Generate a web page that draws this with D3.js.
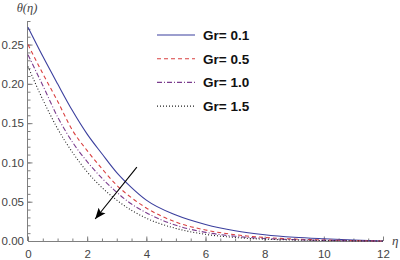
<!DOCTYPE html>
<html>
<head>
<meta charset="utf-8">
<script src="https://cdn.jsdelivr.net/npm/d3@7"></script>
<style>
  body { margin: 0; background: #fff; }
  svg { display: block; }
  .tick text { font-family: "Liberation Sans", Arial, sans-serif; }
</style>
</head>
<body>
<svg id="chart" width="400" height="260"></svg>
<script>
// data
var eta = [0, 0.5, 1, 1.5, 2, 2.5, 3, 3.5, 4, 5, 6, 7, 8, 9, 10, 11, 12];
var gr01 = [0.272, 0.235, 0.200, 0.166, 0.136, 0.111, 0.087, 0.068, 0.052, 0.033, 0.021, 0.013, 0.008, 0.0048, 0.0028, 0.0012, 0];
var gr05 = [0.250, 0.213, 0.178, 0.141, 0.115, 0.092, 0.071, 0.055, 0.042, 0.024, 0.014, 0.008, 0.0045, 0.0025, 0.0013, 0.0005, 0];
var gr10 = [0.237, 0.198, 0.158, 0.126, 0.101, 0.080, 0.062, 0.047, 0.036, 0.020, 0.011, 0.006, 0.0032, 0.0017, 0.0008, 0.0003, 0];
var gr15 = [0.222, 0.180, 0.143, 0.113, 0.088, 0.068, 0.052, 0.039, 0.029, 0.016, 0.0085, 0.0045, 0.0023, 0.0012, 0.0006, 0.0002, 0];
var labels = ["Gr= 0.1", "Gr= 0.5", "Gr= 1.0", "Gr= 1.5"];
var xTicks = [0, 2, 4, 6, 8, 10, 12];
var yTicks = [0, 0.05, 0.10, 0.15, 0.20, 0.25];
// arrow annotation (eta, theta): tail, head
var arrowFrom = [3.68, 0.094];
var arrowTo = [2.27, 0.028];

var series = [
  {name: labels[0], values: gr01, color: "#3b3f9e", dash: null},
  {name: labels[1], values: gr05, color: "#d94040", dash: "4,3"},
  {name: labels[2], values: gr10, color: "#7b3d8e", dash: "5,2,1,2"},
  {name: labels[3], values: gr15, color: "#222", dash: "1,2"}
];

var svg = d3.select("#chart");
var x = d3.scaleLinear().domain([0, 12]).range([28, 383]);
var y = d3.scaleLinear().domain([0, 0.28]).range([241, 21]);
var axisColor = "#7f7f7f";

// x axis (ticks pointing into the plot)
var gx = svg.append("g").attr("transform", "translate(0,241)");
gx.call(d3.axisBottom(x).tickValues(d3.range(0, 12.01, 0.5)).tickSize(-2.5).tickFormat(""));
gx.append("g").call(d3.axisBottom(x).tickValues(xTicks).tickSize(-4.5).tickPadding(7).tickFormat(d3.format("d")));
gx.selectAll("path.domain").attr("stroke", axisColor).attr("d", "M28,0.5H383");
gx.selectAll("line").attr("stroke", axisColor);
gx.selectAll("text").attr("fill", "#444").attr("font-size", 11.5).attr("dy", "0.9em");

// y axis
var gy = svg.append("g").attr("transform", "translate(28,0)");
gy.call(d3.axisLeft(y).tickValues(d3.range(0, 0.2801, 0.01)).tickSize(-2.5).tickFormat(""));
gy.append("g").call(d3.axisLeft(y).tickValues(yTicks).tickSize(-4.5).tickPadding(4).tickFormat(d3.format(".2f")));
gy.selectAll("path.domain").attr("stroke", axisColor).attr("d", "M-0.5,241V21");
gy.selectAll("line").attr("stroke", axisColor);
gy.selectAll("text").attr("fill", "#444").attr("font-size", 11.5);

// curves
var line = d3.line()
  .x(function(d, i) { return x(eta[i]); })
  .y(function(d) { return y(d); })
  .curve(d3.curveMonotoneX);

svg.selectAll("path.curve")
  .data(series)
  .enter()
  .append("path")
  .attr("class", "curve")
  .attr("d", function(d) { return line(d.values); })
  .attr("fill", "none")
  .attr("stroke", function(d) { return d.color; })
  .attr("stroke-width", 1.1)
  .attr("stroke-dasharray", function(d) { return d.dash; });

// axis labels
svg.append("text").attr("x", 27).attr("y", 12).attr("text-anchor", "middle")
  .attr("font-family", "Liberation Serif, serif").attr("font-style", "italic")
  .attr("font-size", 12.5).attr("fill", "#444").text("θ(η)");
svg.append("text").attr("x", 392).attr("y", 245)
  .attr("font-family", "Liberation Serif, serif").attr("font-style", "italic")
  .attr("font-size", 13).attr("fill", "#444").text("η");

// legend
var leg = svg.append("g");
series.forEach(function(s, i) {
  var yy = 35 + i * 23.7;
  leg.append("line").attr("x1", 157).attr("x2", 195).attr("y1", yy).attr("y2", yy)
    .attr("stroke", s.color).attr("stroke-width", 1.1).attr("stroke-dasharray", s.dash);
  leg.append("text").attr("x", 203).attr("y", yy + 5)
    .attr("font-family", "Liberation Sans, Arial, sans-serif").attr("font-weight", "bold")
    .attr("font-size", 13.5).attr("fill", "#111").text(s.name);
});

// arrow
svg.append("defs").append("marker")
  .attr("id", "head").attr("viewBox", "0 0 10 10").attr("refX", 10).attr("refY", 5)
  .attr("markerWidth", 11).attr("markerHeight", 11).attr("markerUnits", "userSpaceOnUse")
  .attr("orient", "auto")
  .append("path").attr("d", "M0,1L10,5L0,9L2,5Z").attr("fill", "#000");
svg.append("line")
  .attr("x1", x(arrowFrom[0])).attr("y1", y(arrowFrom[1]))
  .attr("x2", x(arrowTo[0])).attr("y2", y(arrowTo[1]))
  .attr("stroke", "#000").attr("stroke-width", 1.1)
  .attr("marker-end", "url(#head)");
</script>
</body>
</html>
